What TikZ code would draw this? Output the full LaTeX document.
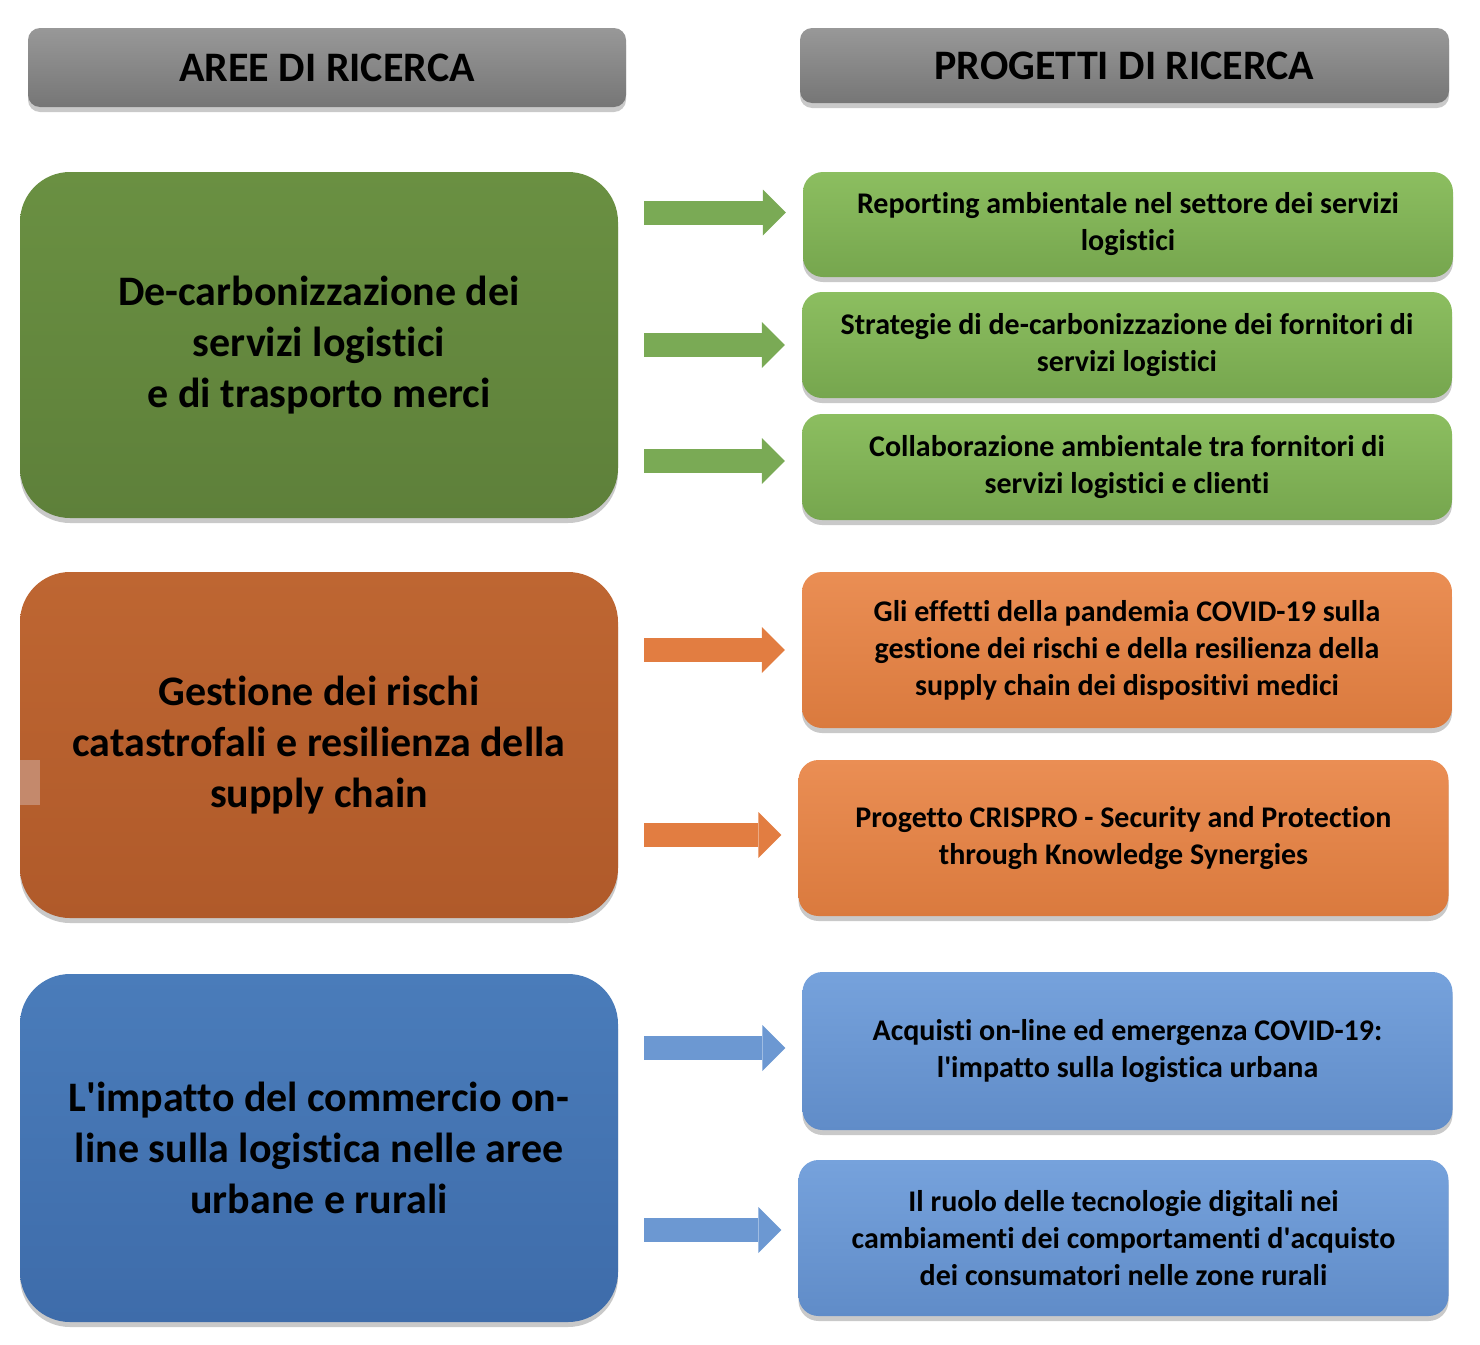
\documentclass[tikz,border=0pt]{standalone}
\usepackage{fontspec}
\setmainfont{Carlito}[Ligatures=NoCommon]
\usetikzlibrary{arrows.meta,positioning,shadows,calc}
\definecolor{grigioA}{RGB}{152,152,152}
\definecolor{grigioB}{RGB}{118,118,118}
\definecolor{verdeA}{RGB}{106,144,66}
\definecolor{verdeB}{RGB}{94,128,58}
\definecolor{verdeC}{RGB}{140,190,96}
\definecolor{verdeD}{RGB}{118,166,78}
\definecolor{verdefr}{RGB}{122,170,85}
\definecolor{aranA}{RGB}{190,102,50}
\definecolor{aranB}{RGB}{176,90,42}
\definecolor{aranC}{RGB}{234,142,84}
\definecolor{aranD}{RGB}{218,122,62}
\definecolor{aranfr}{RGB}{226,125,65}
\definecolor{bluA}{RGB}{74,124,186}
\definecolor{bluB}{RGB}{62,108,170}
\definecolor{bluC}{RGB}{118,162,220}
\definecolor{bluD}{RGB}{96,140,200}
\definecolor{blufr}{RGB}{108,152,210}
\definecolor{macchia}{RGB}{200,148,124}

\tikzset{
  ombra/.style={drop shadow={shadow xshift=0pt,shadow yshift=-5pt,opacity=0.3,fill=black!70}},
  testata/.style={ombra,rounded corners=12pt,top color=grigioA,bottom color=grigioB,
    text=black,font=\fontsize{42}{48}\selectfont\bfseries},
  area/.style={ombra,rounded corners=50pt,minimum width=598pt,minimum height=346pt,
    align=center,text=black,font=\fontsize{42}{51}\selectfont\bfseries},
  progetto/.style={ombra,rounded corners=20pt,minimum width=650pt,
    align=center,text=black,font=\fontsize{30}{37}\selectfont\bfseries},
  freccia/.style={line width=24pt,-{Triangle[length=23pt,width=46pt,line width=0pt]},
    shorten <=26pt,shorten >=17pt}
}

\begin{document}
\begin{tikzpicture}[x=1pt,y=-1pt]
  \useasboundingbox (0,0) rectangle (1480,1344);

  % intestazioni
  \node[testata,minimum width=598pt,minimum height=79pt] (aree) at (327,67.5) {AREE DI RICERCA};
  \node[testata,minimum width=649pt,minimum height=75pt] (progetti) at (1124.5,65.5) {PROGETTI DI RICERCA};

  % aree di ricerca
  \node[area,top color=verdeA,bottom color=verdeB] (verde) at (319,345)
    {De-carbonizzazione dei\\servizi logistici\\e di trasporto merci};
  \node[area,top color=aranA,bottom color=aranB] (arancio) at (319,745)
    {Gestione dei rischi\\catastrofali e resilienza della\\supply chain};
  \node[area,top color=bluA,bottom color=bluB,minimum height=348pt] (blu) at (319,1148)
    {L\textquotesingle impatto del commercio on-\\line sulla logistica nelle aree\\urbane e rurali};
  \fill[macchia,opacity=0.8] (20,760) rectangle (40,805);

  % progetti
  \node[progetto,top color=verdeC,bottom color=verdeD,minimum height=105pt] (g1) at (1128,224.5)
    {Reporting ambientale nel settore dei servizi\\logistici};
  \node[progetto,top color=verdeC,bottom color=verdeD,minimum height=106pt] (g2) at (1127,345)
    {Strategie di de-carbonizzazione dei fornitori di\\servizi logistici};
  \node[progetto,top color=verdeC,bottom color=verdeD,minimum height=106pt] (g3) at (1127,467)
    {Collaborazione ambientale tra fornitori di\\servizi logistici e clienti};
  \node[progetto,top color=aranC,bottom color=aranD,minimum height=156pt] (o1) at (1127,650)
    {Gli effetti della pandemia COVID-19 sulla\\gestione dei rischi e della resilienza della\\supply chain dei dispositivi medici};
  \node[progetto,top color=aranC,bottom color=aranD,minimum height=156pt] (o2) at (1123.5,838)
    {Progetto CRISPRO - Security and Protection\\through Knowledge Synergies};
  \node[progetto,top color=bluC,bottom color=bluD,minimum height=158pt] (b1) at (1127.5,1051)
    {Acquisti on-line ed emergenza COVID-19:\\l\textquotesingle impatto sulla logistica urbana};
  \node[progetto,top color=bluC,bottom color=bluD,minimum height=156pt] (b2) at (1123.5,1238)
    {Il ruolo delle tecnologie digitali nei\\cambiamenti dei comportamenti d\textquotesingle acquisto\\dei consumatori nelle zone rurali};

  % frecce
  \draw[freccia,verdefr] ([yshift=12pt]verde.east |- g1.west) -- ([yshift=12pt]g1.west);
  \draw[freccia,verdefr] (verde.east |- g2.west) -- (g2.west);
  \draw[freccia,verdefr] ([yshift=6pt]verde.east |- g3.west) -- ([yshift=6pt]g3.west);
  \draw[freccia,aranfr] (arancio.east |- o1.west) -- (o1.west);
  \draw[freccia,aranfr] ([yshift=3pt]arancio.east |- o2.west) -- ([yshift=3pt]o2.west);
  \draw[freccia,blufr] ([yshift=3pt]blu.east |- b1.west) -- ([yshift=3pt]b1.west);
  \draw[freccia,blufr] ([yshift=8pt]blu.east |- b2.west) -- ([yshift=8pt]b2.west);
\end{tikzpicture}
\end{document}
